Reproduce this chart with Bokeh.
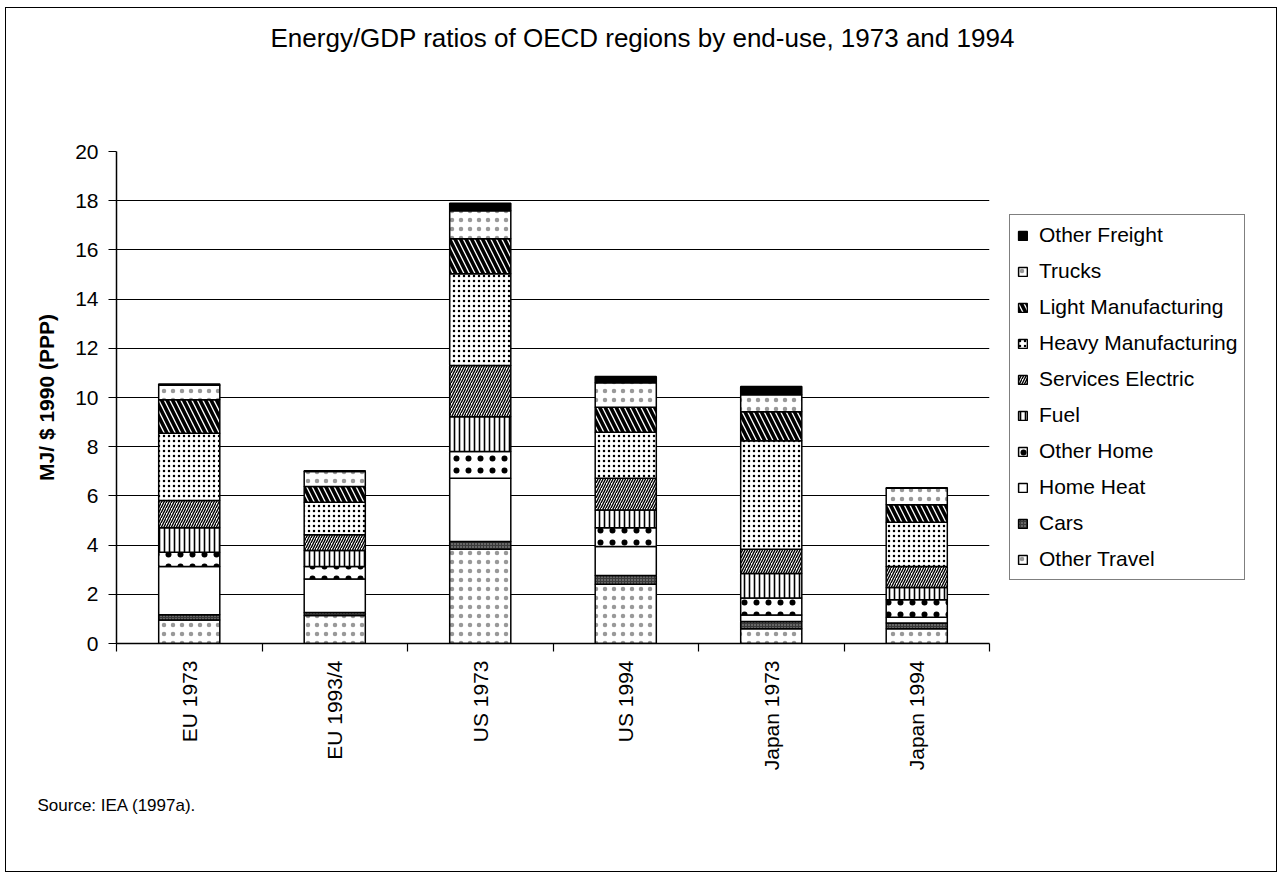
import math
from bokeh.plotting import figure
from bokeh.models import ColumnDataSource, Range1d, FixedTicker, Legend, LegendItem, Title, InlineStyleSheet
from bokeh.embed import file_html
from bokeh.resources import INLINE

# ---------------- data ----------------
categories = ["EU 1973", "EU 1993/4", "US 1973", "US 1994", "Japan 1973", "Japan 1994"]
series_names = ["Other Travel", "Cars", "Home Heat", "Other Home", "Fuel",
                "Services Electric", "Heavy Manufacturing", "Light Manufacturing",
                "Trucks", "Other Freight"]
other_travel = [0.96, 1.14, 3.83, 2.41, 0.60, 0.60]
cars = [0.21, 0.12, 0.32, 0.35, 0.29, 0.23]
home_heat = [1.96, 1.36, 2.57, 1.18, 0.27, 0.24]
other_home = [0.58, 0.51, 1.08, 0.77, 0.69, 0.71]
fuel = [1.00, 0.65, 1.42, 0.72, 1.00, 0.50]
services_electric = [1.10, 0.64, 2.08, 1.29, 0.98, 0.85]
heavy_manufacturing = [2.74, 1.32, 3.73, 1.87, 4.41, 1.80]
light_manufacturing = [1.36, 0.64, 1.42, 1.01, 1.18, 0.71]
trucks = [0.59, 0.61, 1.14, 1.00, 0.69, 0.67]
other_freight = [0.05, 0.03, 0.31, 0.25, 0.34, 0.02]
y_ticks = [0, 2, 4, 6, 8, 10, 12, 14, 16, 18, 20]

series_values = [other_travel, cars, home_heat, other_home, fuel, services_electric,
                 heavy_manufacturing, light_manufacturing, trucks, other_freight]
keys = ["s%d" % i for i in range(len(series_names))]

data = {"x": [i + 0.5 for i in range(len(categories))]}
for k, v in zip(keys, series_values):
    data[k] = v
source = ColumnDataSource(data)

# ---------------- styles ----------------
FONT = "Liberation Sans"
fills = ["white", "#3a3a3a", "white", "white", "white", "white", "white", "white", "white", "black"]
hatches = [".", ".", " ", ".", "|", "/", ".", "\\", ".", " "]
hscales = [9, 3, 12, 12, 5, 5, 5, 11, 9, 12]
hweights = [0.6, 0.8, 1, 0.65, 1.6, 1.4, 1.5, 3.6, 0.6, 1]
hcolors = ["#999999", "#aaaaaa", "black", "black", "black", "black", "black", "black", "#999999", "black"]

p = figure(frame_width=873, frame_height=492,
           output_backend="svg", toolbar_location=None,
           x_range=Range1d(0, len(categories)), y_range=Range1d(0, 20),
           min_border_left=110, min_border_right=0, min_border_top=143,
           min_border_bottom=230)
p.styles = {"border": "1px solid black", "margin-left": "5px", "margin-top": "7px"}
p.stylesheets = [InlineStyleSheet(css=":host { width: 1272px !important; height: 865px !important; overflow: hidden !important; }")]
p.outline_line_color = None
p.background_fill_color = "white"
p.border_fill_color = "white"

renderers = p.vbar_stack(keys, x="x", width=0.42, source=source,
                         fill_color=fills, hatch_pattern=hatches, hatch_scale=hscales,
                         hatch_weight=hweights, hatch_color=hcolors,
                         line_color="black", line_width=1.5)

# axes
p.xaxis.ticker = FixedTicker(ticks=[i + 0.5 for i in range(len(categories))],
                             minor_ticks=list(range(len(categories) + 1)))
p.xaxis.major_label_overrides = {i + 0.5: c for i, c in enumerate(categories)}
p.xaxis.major_label_orientation = math.pi / 2
p.xaxis.major_tick_line_color = None
p.xaxis.major_tick_out = 0
p.xaxis.major_tick_in = 0
p.xaxis.minor_tick_out = 8
p.xaxis.minor_tick_in = 0
p.xaxis.minor_tick_line_color = "black"
p.xaxis.minor_tick_line_width = 1.2
p.xaxis.major_label_standoff = 9
p.xaxis.major_label_text_font = FONT
p.xaxis.major_label_text_font_size = "21px"
p.xaxis.major_label_text_color = "black"
p.xaxis.axis_line_color = "black"
p.xaxis.axis_line_width = 1.5

p.yaxis.ticker = FixedTicker(ticks=y_ticks)
p.yaxis.major_tick_out = 8
p.yaxis.major_tick_in = 0
p.yaxis.major_tick_line_color = "black"
p.yaxis.major_tick_line_width = 1.2
p.yaxis.minor_tick_line_color = None
p.yaxis.major_label_standoff = 10
p.yaxis.major_label_text_font = FONT
p.yaxis.major_label_text_font_size = "21px"
p.yaxis.major_label_text_color = "black"
p.yaxis.axis_line_color = "black"
p.yaxis.axis_line_width = 1.5
p.yaxis.axis_label = "MJ/ $ 1990 (PPP)"
p.yaxis.axis_label_text_font = FONT
p.yaxis.axis_label_text_font_size = "21px"
p.yaxis.axis_label_text_font_style = "bold"
p.yaxis.axis_label_text_color = "black"
p.yaxis.axis_label_standoff = 14

p.xgrid.grid_line_color = None
p.ygrid.ticker = FixedTicker(ticks=y_ticks)
p.ygrid.grid_line_color = "black"
p.ygrid.grid_line_width = 1.2

# legend (top entry = top of stack)
items = [LegendItem(label=n, renderers=[r]) for n, r in zip(series_names, renderers)][::-1]
legend = Legend(items=items, location="center_left", orientation="vertical")
legend.label_text_font = FONT
legend.label_text_font_size = "21px"
legend.label_text_color = "black"
legend.label_height = 26
legend.glyph_height = 11
legend.glyph_width = 11
legend.label_standoff = 11
legend.spacing = 10
legend.padding = 7
legend.margin = 20
legend.border_line_color = "black"
legend.border_line_width = 1.2
legend.background_fill_color = "white"
legend.background_fill_alpha = 1.0
p.add_layout(legend, "right")

# title (with an empty spacer between it and the plot area) and source note
spacer = Title(text=" ", text_font=FONT, text_font_size="1px", standoff=96)
p.add_layout(spacer, "above")
main_title = Title(text="Energy/GDP ratios of OECD regions by end-use, 1973 and 1994",
                   text_font=FONT, text_font_size="26px", text_font_style="normal",
                   align="left", offset=154, standoff=0, text_color="black")
p.add_layout(main_title, "above")
src = Title(text="Source: IEA (1997a).", text_font=FONT, text_font_size="17px",
            text_font_style="normal", align="left", offset=-79, standoff=40,
            text_color="black")
p.add_layout(src, "below")

open("out.html", "w").write(file_html(p, INLINE))
